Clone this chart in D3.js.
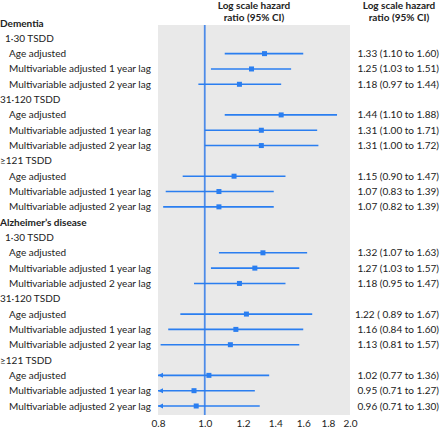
<!DOCTYPE html>
<html>
<head>
<meta charset="utf-8">
<script src="https://cdn.jsdelivr.net/npm/d3@7"></script>
<style>
  body { margin: 0; background: #fff; }
  text { font-family: Lato, "Open Sans", sans-serif; fill: #222; }
</style>
</head>
<body>
<svg id="chart" width="440" height="429"></svg>
<script>
// Row labels (type: g = group heading, s = subgroup, r = result row)
const rowLabels = [
  "Dementia", "1·30 TSDD", "Age adjusted", "Multivariable adjusted 1 year lag", "Multivariable adjusted 2 year lag",
  "31·120 TSDD", "Age adjusted", "Multivariable adjusted 1 year lag", "Multivariable adjusted 2 year lag",
  "≥121 TSDD", "Age adjusted", "Multivariable adjusted 1 year lag", "Multivariable adjusted 2 year lag",
  "Alzheimer’s disease", "1·30 TSDD", "Age adjusted", "Multivariable adjusted 1 year lag", "Multivariable adjusted 2 year lag",
  "31·120 TSDD", "Age adjusted", "Multivariable adjusted 1 year lag", "Multivariable adjusted 2 year lag",
  "≥121 TSDD", "Age adjusted", "Multivariable adjusted 1 year lag", "Multivariable adjusted 2 year lag"
];
const rowTypes = [
  "g","s","r","r","r","s","r","r","r","s","r","r","r",
  "g","s","r","r","r","s","r","r","r","s","r","r","r"
];
// Estimates for result rows (null for headings)
const hr    = [null,null,1.33,1.25,1.18,null,1.44,1.31,1.31,null,1.15,1.07,1.07,
               null,null,1.32,1.27,1.18,null,1.22,1.16,1.13,null,1.02,0.95,0.96];
const lower = [null,null,1.10,1.03,0.97,null,1.10,1.00,1.00,null,0.90,0.83,0.82,
               null,null,1.07,1.03,0.95,null,0.89,0.84,0.81,null,0.77,0.71,0.71];
const upper = [null,null,1.60,1.51,1.44,null,1.88,1.71,1.72,null,1.47,1.39,1.39,
               null,null,1.63,1.57,1.47,null,1.67,1.60,1.57,null,1.36,1.27,1.30];
const ciText = [null,null,"1.33 (1.10 to 1.60)","1.25 (1.03 to 1.51)","1.18 (0.97 to 1.44)",
  null,"1.44 (1.10 to 1.88)","1.31 (1.00 to 1.71)","1.31 (1.00 to 1.72)",
  null,"1.15 (0.90 to 1.47)","1.07 (0.83 to 1.39)","1.07 (0.82 to 1.39)",
  null,null,"1.32 (1.07 to 1.63)","1.27 (1.03 to 1.57)","1.18 (0.95 to 1.47)",
  null,"1.22 ( 0.89 to 1.67)","1.16 (0.84 to 1.60)","1.13 (0.81 to 1.57)",
  null,"1.02 (0.77 to 1.36)","0.95 (0.71 to 1.27)","0.96 (0.71 to 1.30)"];
const tickValues = [0.8, 1.0, 1.2, 1.4, 1.6, 1.8, 2.0];
const headerLines = ["Log scale hazard", "ratio (95% CI)"];

const svg = d3.select("#chart");
const blue = "#2a7ef0";
const fs = "10px";
const x = d3.scaleLog().domain([0.8, 2.0]).range([158, 350]);
const y = d3.scaleLinear().domain([0, rowLabels.length - 1]).range([23, 406]);
const panelTop = 25, panelBottom = 415;

svg.append("rect").attr("x", x(0.8)).attr("y", panelTop)
  .attr("width", x(2.0) - x(0.8)).attr("height", panelBottom - panelTop)
  .attr("fill", "#e9e9e9");

svg.append("line").attr("x1", x(1)).attr("x2", x(1))
  .attr("y1", panelTop).attr("y2", panelBottom)
  .attr("stroke", "#4d8be8").attr("stroke-width", 1.8);

// axis
const axis = d3.axisBottom(x).tickValues(tickValues).tickFormat(d3.format(".1f")).tickSize(0).tickPadding(5);
const gAx = svg.append("g").attr("transform", `translate(0,${panelBottom})`).call(axis);
gAx.select(".domain").remove();
gAx.selectAll("text").style("font-size", fs).style("font-family", "Lato, sans-serif").attr("fill", "#222");

// headers
[254, 399].forEach(cx => {
  headerLines.forEach((t, i) => {
    svg.append("text").attr("x", cx).attr("y", 9 + i * 12)
      .attr("text-anchor", "middle").style("font-size", fs).style("font-weight", "bold").text(t);
  });
});

// labels
svg.selectAll("text.lab").data(rowLabels).join("text").attr("class", "lab")
  .attr("x", (d, i) => rowTypes[i] === "g" ? 0 : rowTypes[i] === "s" ? (d.startsWith("1·") ? 5 : 0) : 9)
  .attr("y", (d, i) => y(i)).attr("dy", "0.35em")
  .style("font-size", fs)
  .style("font-weight", (d, i) => rowTypes[i] === "g" ? "bold" : "normal")
  .text(d => d);

const idx = d3.range(rowLabels.length).filter(i => hr[i] !== null);
const lo = d3.min(x.domain());

svg.selectAll("line.ci").data(idx).join("line").attr("class", "ci")
  .attr("x1", i => x(Math.max(lower[i], lo))).attr("x2", i => x(upper[i]))
  .attr("y1", i => y(i)).attr("y2", i => y(i))
  .attr("stroke", blue).attr("stroke-width", 1.6);

// arrows for truncated CIs
svg.selectAll("path.arrow").data(idx.filter(i => lower[i] < lo)).join("path").attr("class", "arrow")
  .attr("d", i => `M${x(lo)},${y(i)} l5,-2.5 l0,5 Z`)
  .attr("fill", blue);

svg.selectAll("rect.pt").data(idx).join("rect").attr("class", "pt")
  .attr("x", i => x(hr[i]) - 2.5).attr("y", i => y(i) - 2.5)
  .attr("width", 5).attr("height", 5).attr("fill", blue);

svg.selectAll("text.ci").data(idx).join("text").attr("class", "ci")
  .attr("x", 439).attr("y", i => y(i)).attr("dy", "0.35em").attr("text-anchor", "end")
  .style("font-size", fs).text(i => ciText[i]);
</script>
</body>
</html>
